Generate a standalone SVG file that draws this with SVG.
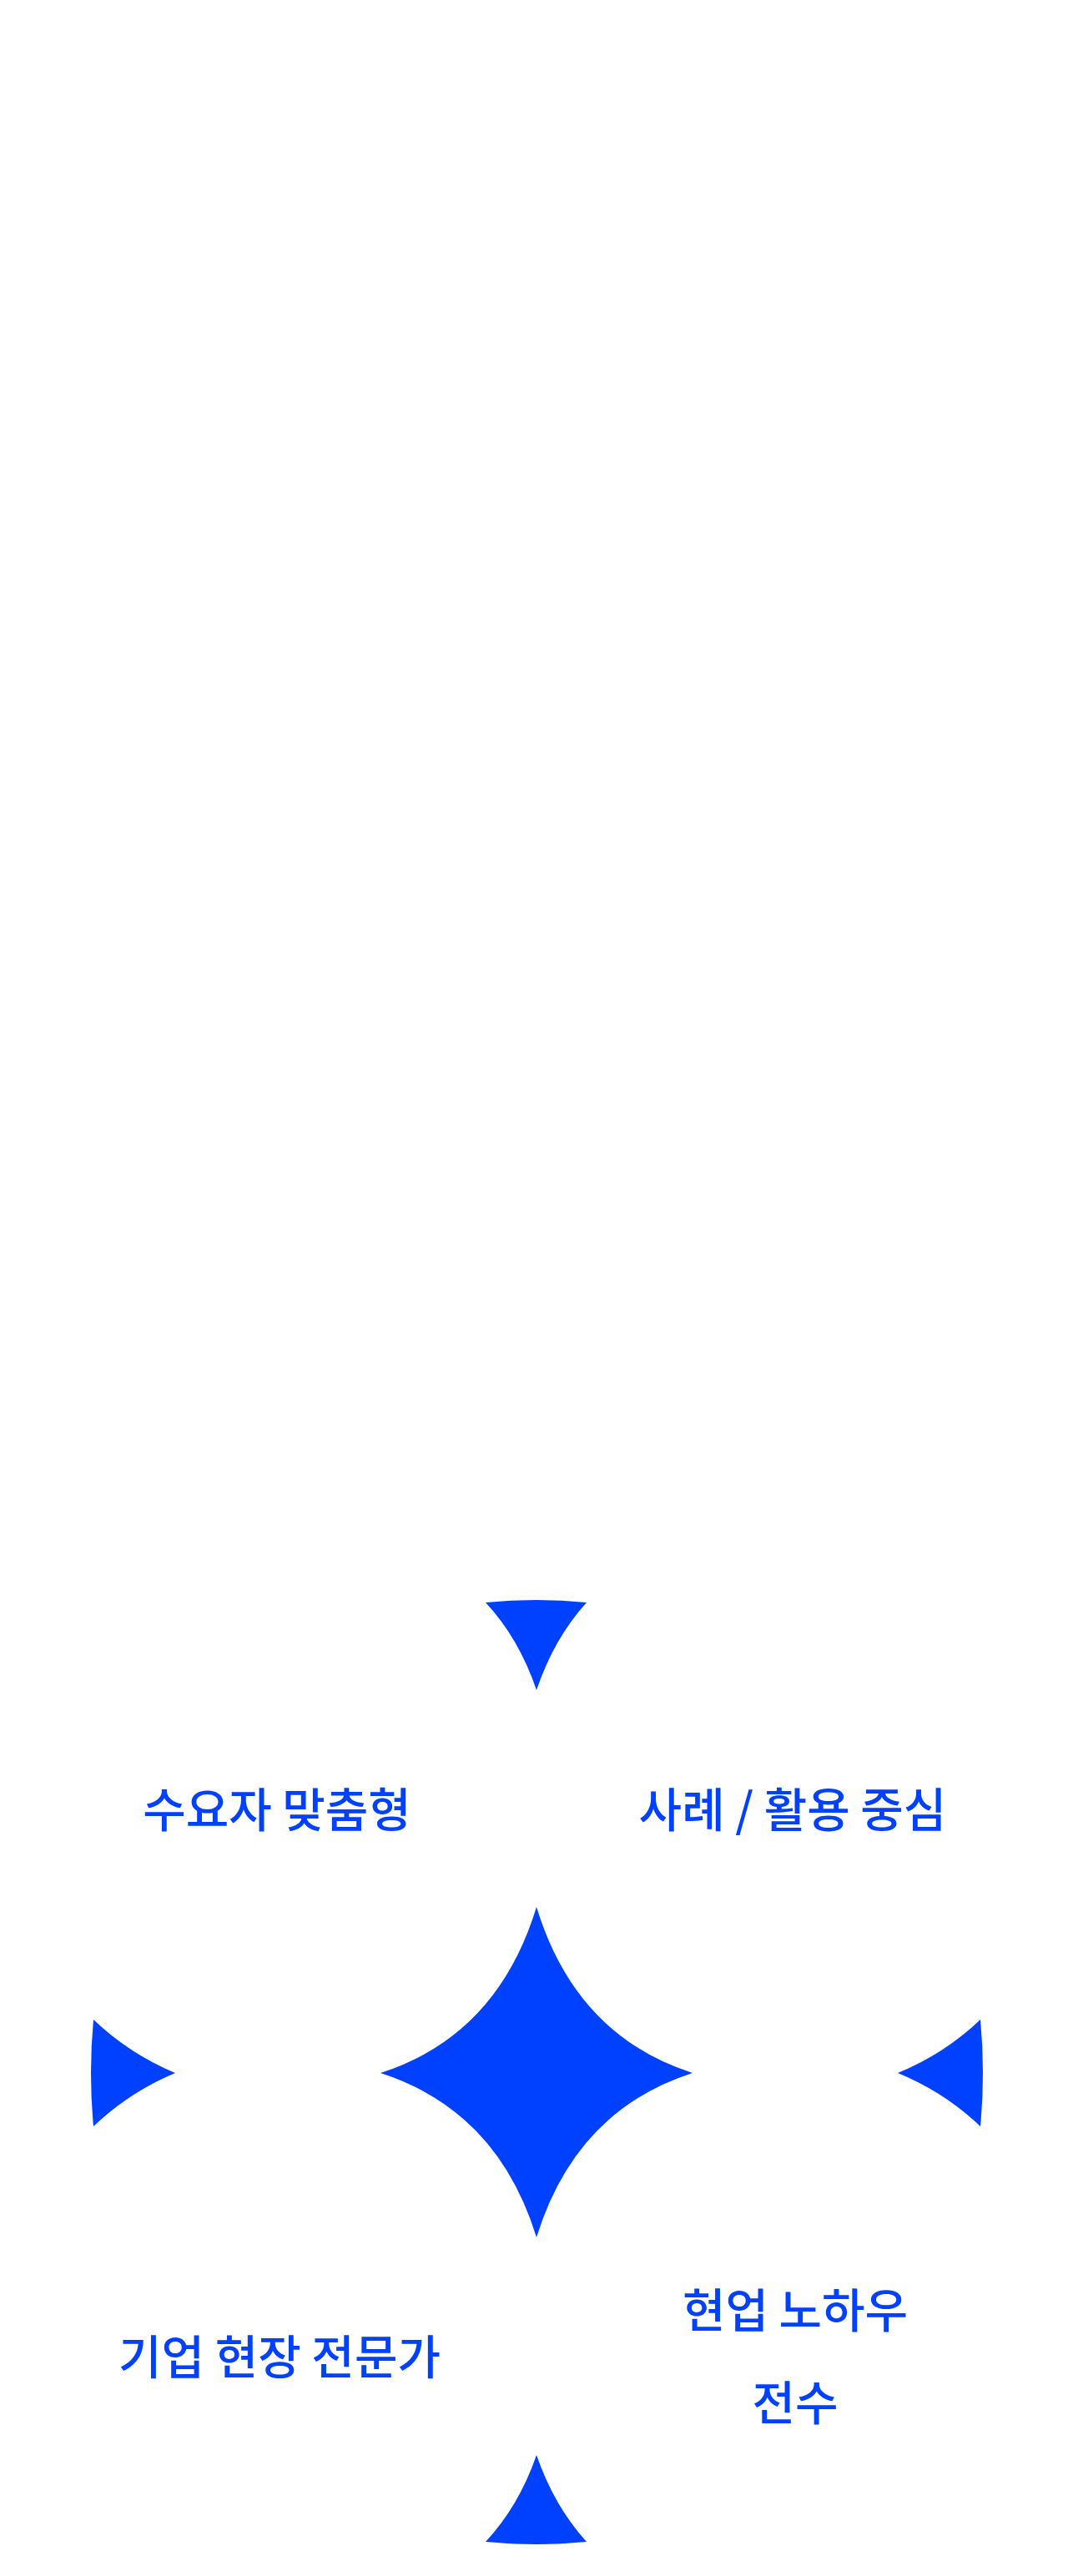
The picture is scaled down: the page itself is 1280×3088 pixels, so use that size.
<svg xmlns="http://www.w3.org/2000/svg" width="1280" height="3088" viewBox="0 0 1280 3088">
<style>
.s{fill:#0040FF}
.t{font-family:"Noto Sans CJK KR","Noto Sans",sans-serif;font-size:56px;font-weight:500;fill:#0040FF;text-anchor:middle}
</style>
<rect width="1280" height="3088" fill="#fff"/>
<g id="star"><path class="s" d="M643 2286 Q690 2440 830 2485 Q690 2530 643 2682 Q596 2530 456 2485 Q596 2440 643 2286Z"/></g>
<g id="top"><path class="s" d="M582 1921 Q643 1915 703 1921 Q664 1964 643 2026 Q622 1964 582 1921Z"/></g>
<g id="bottom"><path class="s" d="M582 3047 Q643 3053 703 3047 Q664 3004 643 2943 Q622 3004 582 3047Z"/></g>
<g id="left"><path class="s" d="M112 2421 Q106 2485 112 2549 Q155 2508 210 2485 Q155 2462 112 2421Z"/></g>
<g id="right"><path class="s" d="M1175 2421 Q1181 2485 1175 2549 Q1132 2508 1076 2485 Q1132 2462 1175 2421Z"/></g>
<g id="n1"><text class="t" x="332" y="2190">수요자 맞춤형</text></g>
<g id="n2"><text class="t" x="950" y="2190">사례 / 활용 중심</text></g>
<g id="n3"><text class="t" x="335" y="2846">기업 현장 전문가</text></g>
<g id="n4"><text class="t" x="953" y="2790">현업 노하우</text><text class="t" x="953" y="2901">전수</text></g>
<g id="connectors"/>
</svg>
